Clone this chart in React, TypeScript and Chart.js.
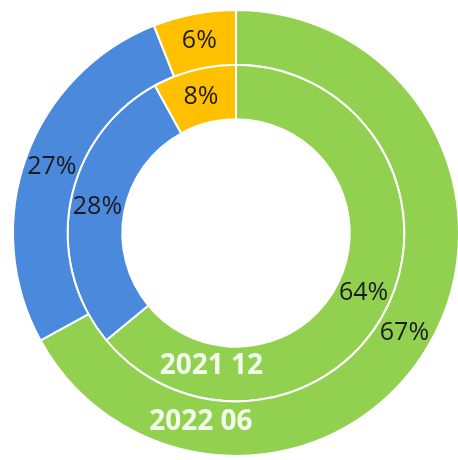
import React, { useEffect, useRef } from "react";
import { Chart, registerables } from "chart.js";

Chart.register(...registerables);

const categories = ["Green", "Blue", "Orange"];
const seriesNames = ["2022 06", "2021 12"];
const outerValues = [67, 27, 6]; // 2022 06
const innerValues = [64, 28, 8]; // 2021 12
const colors = ["#92D050", "#4A89DC", "#FFC000"];

const labelPlugin = {
  id: "ringLabels",
  afterDatasetsDraw(chart: any) {
    const ctx = chart.ctx;
    ctx.save();
    ctx.textAlign = "center";
    ctx.textBaseline = "middle";
    chart.data.datasets.forEach((ds: any, di: number) => {
      const meta = chart.getDatasetMeta(di);
      meta.data.forEach((arc: any, i: number) => {
        const p = arc.tooltipPosition();
        ctx.font = "25px 'Open Sans'";
        ctx.fillStyle = "#1c1c1c";
        ctx.fillText(`${ds.data[i]}%`, p.x, p.y);
      });
      const a0 = meta.data[0];
      if (a0) {
        const { x, y, innerRadius, outerRadius } = a0.getProps(["x", "y", "innerRadius", "outerRadius"], true);
        const t = di === 0 ? 0.44 : 0.4;
        const r = innerRadius + (outerRadius - innerRadius) * t;
        const th = (190.5 * Math.PI) / 180;
        const lx = x + r * Math.sin(th);
        const ly = y - r * Math.cos(th);
        ctx.font = "bold 28px 'Open Sans'";
        ctx.fillStyle = "#F2FFEC";
        ctx.fillText(ds.label, lx, ly);
      }
    });
    ctx.restore();
  },
};

export default function App() {
  const ref = useRef<HTMLCanvasElement>(null);
  useEffect(() => {
    document.body.style.margin = "0";
    const chart = new Chart(ref.current!, {
      type: "doughnut",
      data: {
        labels: categories,
        datasets: [
          {
            label: seriesNames[0],
            data: outerValues,
            backgroundColor: colors,
            borderColor: "#ffffff",
            borderWidth: 2,
          },
          {
            label: seriesNames[1],
            data: innerValues,
            backgroundColor: colors,
            borderColor: "#ffffff",
            borderWidth: 2,
          },
        ],
      },
      options: {
        animation: false,
        responsive: false,
        cutout: "51%",
        layout: { padding: { left: 12, right: 2, top: 9, bottom: 3 } },
        plugins: {
          legend: { display: false },
          tooltip: { enabled: false },
        },
      },
      plugins: [labelPlugin],
    });
    return () => chart.destroy();
  }, []);
  return (
    <div style={{ position: "fixed", left: 0, top: 0, width: 458, height: 460, overflow: "hidden", background: "#fff" }}>
      <canvas ref={ref} width={462} height={460} style={{ width: 462, height: 460 }} />
    </div>
  );
}
